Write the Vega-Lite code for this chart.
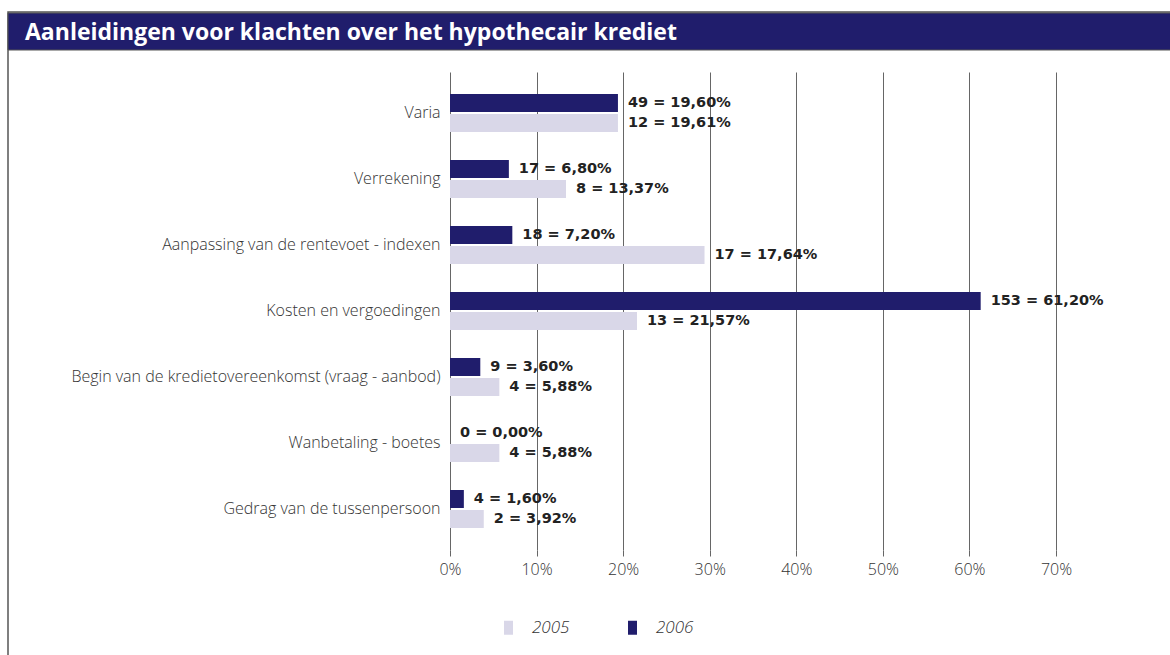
{
  "$schema": "https://vega.github.io/schema/vega-lite/v6.json",
  "autosize": "none",
  "width": 606,
  "height": 478,
  "padding": {"left": 450, "top": 72, "right": 114, "bottom": 105},
  "background": "white",
  "config": {
    "view": {"stroke": null},
    "font": "Open Sans"
  },
  "title": {
    "text": "Aanleidingen voor klachten over het hypothecair krediet",
    "anchor": "start",
    "frame": "group",
    "orient": "top",
    "dx": -425,
    "offset": -57,
    "baseline": "bottom",
    "color": "white",
    "font": "Open Sans",
    "fontSize": 23,
    "fontWeight": "bold"
  },
  "datasets": {
    "bars": [
      {"reden": "Varia", "jaar": "2006", "pct": 19.4, "label": "49 = 19,60%"},
      {"reden": "Varia", "jaar": "2005", "pct": 19.4, "label": "12 = 19,61%"},
      {"reden": "Verrekening", "jaar": "2006", "pct": 6.8, "label": "17 = 6,80%"},
      {"reden": "Verrekening", "jaar": "2005", "pct": 13.4, "label": "8 = 13,37%"},
      {"reden": "Aanpassing van de rentevoet - indexen", "jaar": "2006", "pct": 7.2, "label": "18 = 7,20%"},
      {"reden": "Aanpassing van de rentevoet - indexen", "jaar": "2005", "pct": 29.4, "label": "17 = 17,64%"},
      {"reden": "Kosten en vergoedingen", "jaar": "2006", "pct": 61.3, "label": "153 = 61,20%"},
      {"reden": "Kosten en vergoedingen", "jaar": "2005", "pct": 21.6, "label": "13 = 21,57%"},
      {"reden": "Begin van de kredietovereenkomst (vraag - aanbod)", "jaar": "2006", "pct": 3.5, "label": "9 = 3,60%"},
      {"reden": "Begin van de kredietovereenkomst (vraag - aanbod)", "jaar": "2005", "pct": 5.7, "label": "4 = 5,88%"},
      {"reden": "Wanbetaling - boetes", "jaar": "2006", "pct": 0, "label": "0 = 0,00%"},
      {"reden": "Wanbetaling - boetes", "jaar": "2005", "pct": 5.7, "label": "4 = 5,88%"},
      {"reden": "Gedrag van de tussenpersoon", "jaar": "2006", "pct": 1.6, "label": "4 = 1,60%"},
      {"reden": "Gedrag van de tussenpersoon", "jaar": "2005", "pct": 3.9, "label": "2 = 3,92%"}
    ],
    "frame": [{"part": "frame"}]
  },
  "layer": [
    {
      "data": {"name": "frame"},
      "mark": {"type": "rect", "fill": null, "fillOpacity": 0, "stroke": "#555555", "strokeWidth": 1.5, "clip": false},
      "encoding": {
        "x": {"value": -442},
        "x2": {"value": 730},
        "y": {"value": -60},
        "y2": {"value": 650}
      }
    },
    {
      "data": {"name": "frame"},
      "mark": {"type": "rect", "fill": "#201d6c", "stroke": "#555555", "strokeWidth": 1, "clip": false},
      "encoding": {
        "x": {"value": -442},
        "x2": {"value": 730},
        "y": {"value": -59},
        "y2": {"value": -22}
      }
    },
    {
      "data": {"name": "bars"},
      "mark": {"type": "bar"},
      "encoding": {
        "y": {
          "field": "reden",
          "type": "nominal",
          "sort": null,
          "scale": {"paddingInner": 0.4242, "paddingOuter": 0.3333},
          "axis": {
            "title": null,
            "domain": false,
            "ticks": false,
            "labelPadding": 10,
            "labelFont": "Open Sans",
            "labelFontSize": 16,
            "labelFontWeight": 300,
            "labelColor": "#333333",
            "labelLimit": 500
          }
        },
        "yOffset": {
          "field": "jaar",
          "type": "nominal",
          "scale": {"domain": ["2006", "2005"], "paddingInner": 0.1}
        },
        "x": {
          "field": "pct",
          "type": "quantitative",
          "scale": {"domain": [0, 70], "nice": false},
          "axis": {
            "title": null,
            "values": [0, 10, 20, 30, 40, 50, 60, 70],
            "labelExpr": "datum.value + '%'",
            "labelFlush": false,
            "domain": false,
            "ticks": true,
            "tickSize": 6,
            "tickColor": "#666666",
            "labelPadding": 5,
            "grid": true,
            "gridColor": "#666666",
            "gridWidth": 1,
            "labelFont": "Open Sans",
            "labelFontSize": 16,
            "labelFontWeight": 300,
            "labelColor": "#333333"
          }
        },
        "color": {
          "field": "jaar",
          "type": "nominal",
          "scale": {"domain": ["2005", "2006"], "range": ["#d9d7e8", "#201d6c"]},
          "legend": {
            "title": null,
            "orient": "none",
            "direction": "horizontal",
            "legendX": 50,
            "legendY": 547,
            "symbolType": "M-0.64,-1H0.64V1H-0.64Z",
            "symbolSize": 196,
            "symbolStrokeWidth": 0,
            "labelOffset": 15,
            "columnPadding": 54,
            "labelFont": "Open Sans",
            "labelFontSize": 17,
            "labelFontStyle": "italic",
            "labelFontWeight": 300,
            "labelColor": "#333333",
            "padding": 0
          }
        }
      }
    },
    {
      "data": {"name": "bars"},
      "mark": {"type": "text", "align": "left", "baseline": "middle", "dx": 10, "font": "DejaVu Sans", "fontSize": 14.5, "fontWeight": "bold", "color": "#222222"},
      "encoding": {
        "y": {"field": "reden", "type": "nominal", "sort": null},
        "yOffset": {"field": "jaar", "type": "nominal"},
        "x": {"field": "pct", "type": "quantitative"},
        "text": {"field": "label"}
      }
    }
  ]
}
